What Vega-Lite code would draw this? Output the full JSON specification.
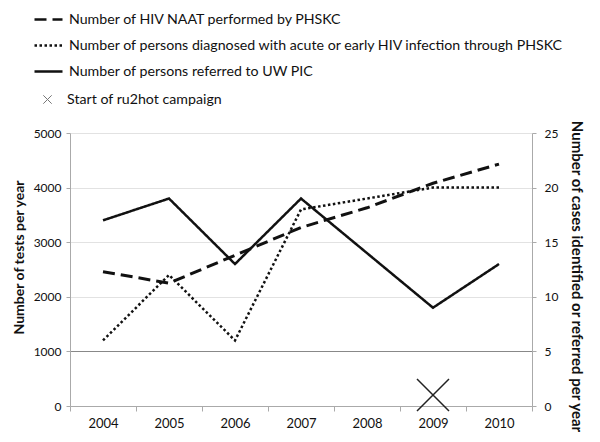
{
  "$schema": "https://vega.github.io/schema/vega-lite/v6.json",
  "width": 462,
  "height": 273,
  "autosize": {"type": "none"},
  "padding": {"left": 70, "top": 133, "right": 68, "bottom": 36},
  "background": "white",
  "config": {
    "view": {"stroke": null},
    "font": "Lato",
    "axis": {"labelFont": "Lato", "titleFont": "Lato", "labelColor": "#111", "titleColor": "#111", "domainColor": "#aaa", "tickColor": "#aaa", "labelFontSize": 12, "titleFontSize": 14, "titleFontWeight": "bold", "format": "d"},
    "legend": {"labelFont": "Lato", "labelFontSize": 14.2, "labelColor": "#111", "labelLimit": 0}
  },
  "data": {
    "values": [
      {"year": "2004", "series": "Number of HIV NAAT performed by PHSKC", "value": 2460},
      {"year": "2005", "series": "Number of HIV NAAT performed by PHSKC", "value": 2250},
      {"year": "2006", "series": "Number of HIV NAAT performed by PHSKC", "value": 2760},
      {"year": "2007", "series": "Number of HIV NAAT performed by PHSKC", "value": 3270},
      {"year": "2008", "series": "Number of HIV NAAT performed by PHSKC", "value": 3630},
      {"year": "2009", "series": "Number of HIV NAAT performed by PHSKC", "value": 4080},
      {"year": "2010", "series": "Number of HIV NAAT performed by PHSKC", "value": 4430},
      {"year": "2004", "series": "Number of persons diagnosed with acute or early HIV infection through PHSKC", "value": 6},
      {"year": "2005", "series": "Number of persons diagnosed with acute or early HIV infection through PHSKC", "value": 12},
      {"year": "2006", "series": "Number of persons diagnosed with acute or early HIV infection through PHSKC", "value": 6},
      {"year": "2007", "series": "Number of persons diagnosed with acute or early HIV infection through PHSKC", "value": 18},
      {"year": "2009", "series": "Number of persons diagnosed with acute or early HIV infection through PHSKC", "value": 20},
      {"year": "2010", "series": "Number of persons diagnosed with acute or early HIV infection through PHSKC", "value": 20},
      {"year": "2004", "series": "Number of persons referred to UW PIC", "value": 17},
      {"year": "2005", "series": "Number of persons referred to UW PIC", "value": 19},
      {"year": "2006", "series": "Number of persons referred to UW PIC", "value": 13},
      {"year": "2007", "series": "Number of persons referred to UW PIC", "value": 19},
      {"year": "2009", "series": "Number of persons referred to UW PIC", "value": 9},
      {"year": "2010", "series": "Number of persons referred to UW PIC", "value": 13},
      {"year": "2009", "series": "Start of ru2hot campaign", "value": 1}
    ]
  },
  "encoding": {
    "x": {
      "field": "year", "type": "ordinal",
      "scale": {"type": "band", "paddingInner": 0, "paddingOuter": 0},
      "axis": {"title": null, "labelAngle": 0, "tickBand": "extent", "tickSize": 5, "labelPadding": 6, "grid": false, "labelFontSize": 13}
    }
  },
  "layer": [
    {
      "transform": [{"filter": "datum.series === 'Number of HIV NAAT performed by PHSKC'"}],
      "mark": {"type": "line", "strokeWidth": 3, "color": "#111"},
      "encoding": {
        "y": {
          "field": "value", "type": "quantitative",
          "scale": {"domain": [0, 5000]},
          "axis": {
            "orient": "left", "values": [0, 1000, 2000, 3000, 4000, 5000], "grid": true,
            "gridColor": {"condition": {"test": "datum.value === 1000", "value": "#888"}, "value": "#e2e2e2"},
            "tickSize": 4, "labelPadding": 5,
            "title": "Number of tests per year", "titlePadding": 7, "titleY": 124
          }
        },
        "strokeDash": {
          "field": "series", "type": "nominal",
          "scale": {
            "domain": ["Number of HIV NAAT performed by PHSKC", "Number of persons diagnosed with acute or early HIV infection through PHSKC", "Number of persons referred to UW PIC"],
            "range": [[12, 6], [2.5, 2.5], [1, 0]]
          },
          "legend": {
            "title": null, "orient": "none", "legendX": -37, "legendY": -129, "direction": "vertical",
            "symbolType": "stroke", "symbolSize": 784, "symbolStrokeWidth": 2.5, "symbolStrokeColor": "#111",
            "rowPadding": 3, "labelOffset": 5, "padding": 0
          }
        }
      }
    },
    {
      "encoding": {
        "y": {
          "field": "value", "type": "quantitative",
          "scale": {"domain": [0, 25]},
          "axis": {
            "orient": "right", "values": [0, 5, 10, 15, 20, 25], "grid": false,
            "tickSize": 4, "labelPadding": 8,
            "title": "Number of cases identified or referred per year", "titleFontSize": 15, "titlePadding": 11, "titleY": 143
          }
        }
      },
      "layer": [
        {
          "transform": [{"filter": "datum.series !== 'Number of HIV NAAT performed by PHSKC' && datum.series !== 'Start of ru2hot campaign'"}],
          "mark": {"type": "line", "strokeWidth": 2.5, "color": "#111"},
          "encoding": {
            "strokeDash": {"field": "series", "type": "nominal"}
          }
        },
        {
          "transform": [{"filter": "datum.series === 'Start of ru2hot campaign'"}],
          "mark": {"type": "point", "filled": false, "size": 11378, "strokeWidth": 1.5, "color": "#222", "opacity": 1},
          "encoding": {
            "shape": {
              "field": "series", "type": "nominal",
              "scale": {"range": ["M-0.3,-0.3L0.3,0.3M-0.3,0.3L0.3,-0.3"]},
              "legend": {
                "title": null, "orient": "none", "legendX": -37, "legendY": -48,
                "symbolSize": 784, "symbolStrokeWidth": 1, "symbolStrokeColor": "#777",
                "labelOffset": 5, "padding": 0
              }
            }
          }
        }
      ]
    }
  ],
  "resolve": {"scale": {"y": "independent"}}
}
